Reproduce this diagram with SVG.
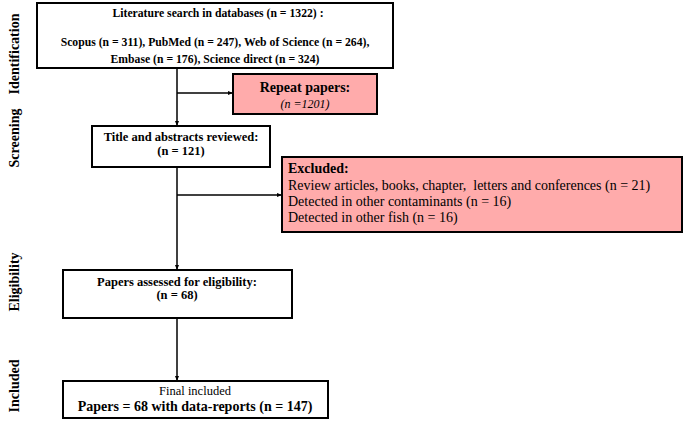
<svg xmlns="http://www.w3.org/2000/svg" width="685" height="422" viewBox="0 0 685 422">
<defs>
<marker id="ah" viewBox="0 0 10 10" refX="10" refY="5" markerWidth="5" markerHeight="5" orient="auto" markerUnits="userSpaceOnUse">
<path d="M0,1 L10,5 L0,9 z" fill="#000"/>
</marker>
<style>
.box{fill:#fff;stroke:#000;stroke-width:2}
.pink{fill:#FFABAB;stroke:#000;stroke-width:2}
.b{font-family:"Liberation Serif",serif;font-weight:bold;fill:#000}
.r{font-family:"Liberation Serif",serif;fill:#000}
.side{font-family:"Liberation Serif",serif;font-weight:bold;font-size:14px;fill:#000;text-anchor:middle}
.c{text-anchor:middle}
.edge{stroke:#000;stroke-width:1.5;fill:none}
</style>
</defs>
<rect width="685" height="422" fill="#fff"/>
<g id="side-labels">
<text class="side" transform="translate(19,54) rotate(-90)">Identification</text>
<text class="side" transform="translate(19,138) rotate(-90)">Screening</text>
<text class="side" transform="translate(19,282) rotate(-90)">Eligibility</text>
<text class="side" transform="translate(19,386) rotate(-90)">Included</text>
</g>
<g id="n-search">
<rect class="box" x="37" y="3" width="356" height="65"/>
<text class="b c" x="218" y="17" font-size="11.7">Literature search in databases (n = 1322) :</text>
<text class="b c" x="215" y="46" font-size="11.7">Scopus (n = 311), PubMed (n = 247), Web of Science (n = 264),</text>
<text class="b c" x="215" y="63" font-size="11.7">Embase (n = 176), Science direct (n = 324)</text>
</g>
<g id="n-repeat">
<rect class="pink" x="233" y="74" width="144" height="40"/>
<text class="b c" x="305" y="92" font-size="14">Repeat papers:</text>
<text class="r c" x="305" y="108" font-size="12" font-style="italic">(n =1201)</text>
</g>
<g id="n-title">
<rect class="box" x="92" y="126" width="178" height="41"/>
<text class="b c" x="181" y="141" font-size="12.5">Title and abstracts reviewed:</text>
<text class="b c" x="181" y="155" font-size="12.5">(n = 121)</text>
</g>
<g id="n-excluded">
<rect class="pink" x="282" y="157" width="400" height="75"/>
<text class="b" x="288" y="173" font-size="14">Excluded:</text>
<text class="r" x="288" y="190" font-size="14" xml:space="preserve">Review articles, books, chapter,  letters and conferences (n = 21)</text>
<text class="r" x="288" y="206" font-size="14">Detected in other contaminants (n = 16)</text>
<text class="r" x="288" y="222" font-size="14">Detected in other fish (n = 16)</text>
</g>
<g id="n-eligibility">
<rect class="box" x="63" y="270" width="229" height="48"/>
<text class="b c" x="177" y="286" font-size="12.5">Papers assessed for eligibility:</text>
<text class="b c" x="177" y="299" font-size="12.5">(n = 68)</text>
</g>
<g id="n-included">
<rect class="box" x="63" y="381" width="265" height="37"/>
<text class="r c" x="195" y="395" font-size="12.5">Final included</text>
<text class="b c" x="195" y="411" font-size="14">Papers = 68 with data-reports (n = 147)</text>
</g>
<g id="connectors">
<line class="edge" x1="177" y1="68" x2="177" y2="126" marker-end="url(#ah)"/>
<line class="edge" x1="177" y1="93" x2="233" y2="93" marker-end="url(#ah)"/>
<line class="edge" x1="177" y1="167" x2="177" y2="270" marker-end="url(#ah)"/>
<line class="edge" x1="177" y1="195" x2="282" y2="195" marker-end="url(#ah)"/>
<line class="edge" x1="177" y1="318" x2="177" y2="381" marker-end="url(#ah)"/>
</g>
</svg>
